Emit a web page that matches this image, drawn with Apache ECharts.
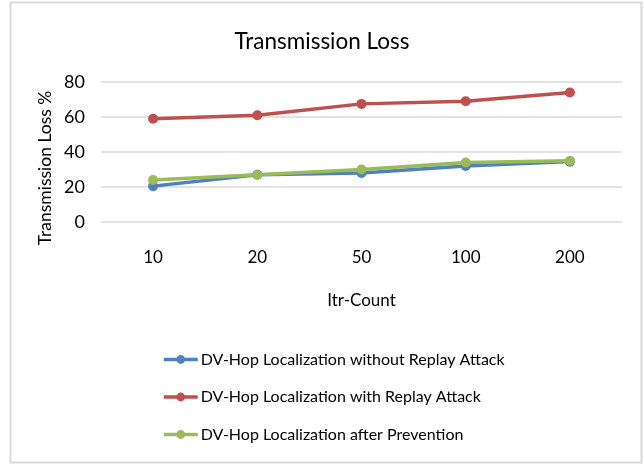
<!DOCTYPE html>
<html>
<head>
<meta charset="utf-8">
<script src="https://cdn.jsdelivr.net/npm/echarts@6/dist/echarts.min.js"></script>
<style>
  html, body { margin: 0; padding: 0; background: #fff; }
  #chart { width: 644px; height: 465px; }
</style>
</head>
<body>
<div id="chart"></div>
<script>
// Iteration counts on the x axis
const itrCounts = ['10', '20', '50', '100', '200'];
// Transmission loss (%) for each scenario
const withoutReplay = [20.5, 27, 28, 32, 34.5];
const withReplay = [59, 61, 67.5, 69, 74];
const afterPrevention = [24, 27, 30, 34, 35];
const seriesNames = [
  'DV-Hop Localization without Replay Attack',
  'DV-Hop Localization with Replay Attack',
  'DV-Hop Localization after Prevention'
];
const yTicks = [0, 20, 40, 60, 80];

const FONT = 'Lato, "Open Sans", sans-serif';
const colors = ['#4F81BD', '#C0504D', '#9BBB59'];

const chart = echarts.init(document.getElementById('chart'), null, { renderer: 'canvas' });

function lineSeries(name, data, color) {
  return {
    name: name,
    type: 'line',
    data: data,
    symbol: 'circle',
    symbolSize: 10,
    lineStyle: { width: 3.5, color: color },
    itemStyle: { color: color },
    emphasis: { disabled: true },
    animation: false
  };
}

chart.setOption({
  backgroundColor: '#fff',
  animation: false,
  title: {
    text: 'Transmission Loss',
    left: 'center',
    top: 25,
    textStyle: { fontFamily: FONT, fontSize: 22.5, fontWeight: 'normal', color: '#000' }
  },
  grid: { left: 101, right: 22, top: 82, height: 140 },
  xAxis: {
    type: 'category',
    data: itrCounts,
    boundaryGap: true,
    axisLine: { show: false },
    axisTick: { show: false },
    axisLabel: { fontFamily: FONT, fontSize: 17, color: '#000', margin: 27 },
    name: 'Itr-Count',
    nameLocation: 'middle',
    nameGap: 70,
    nameTextStyle: { fontFamily: FONT, fontSize: 17, color: '#000' }
  },
  yAxis: {
    type: 'value',
    min: yTicks[0],
    max: yTicks[yTicks.length - 1],
    interval: yTicks[1] - yTicks[0],
    axisLine: { show: false },
    axisTick: { show: false },
    splitLine: { lineStyle: { color: '#d9d9d9', width: 1.5 } },
    axisLabel: { fontFamily: FONT, fontSize: 18, color: '#000', margin: 16 }
  },
  legend: {
    orient: 'vertical',
    left: 157,
    top: 344,
    itemGap: 16.5,
    itemWidth: 34,
    itemHeight: 11,
    data: seriesNames,
    lineStyle: { width: 3.5 },
    textStyle: { fontFamily: FONT, fontSize: 16, lineHeight: 21, color: '#000', padding: [0, 0, 0, -2] }
  },
  graphic: [
    {
      type: 'rect',
      shape: { x: 10.5, y: 2.5, width: 631, height: 460 },
      style: { fill: 'none', stroke: '#d9d9d9', lineWidth: 2 },
      silent: true
    },
    {
      type: 'text',
      x: 45,
      y: 168,
      rotation: Math.PI / 2,
      style: {
        text: 'Transmission Loss %',
        font: '17.5px ' + FONT,
        fill: '#000',
        align: 'center',
        verticalAlign: 'middle'
      }
    }
  ],
  series: [
    lineSeries(seriesNames[0], withoutReplay, colors[0]),
    lineSeries(seriesNames[1], withReplay, colors[1]),
    lineSeries(seriesNames[2], afterPrevention, colors[2])
  ]
});
</script>
</body>
</html>
